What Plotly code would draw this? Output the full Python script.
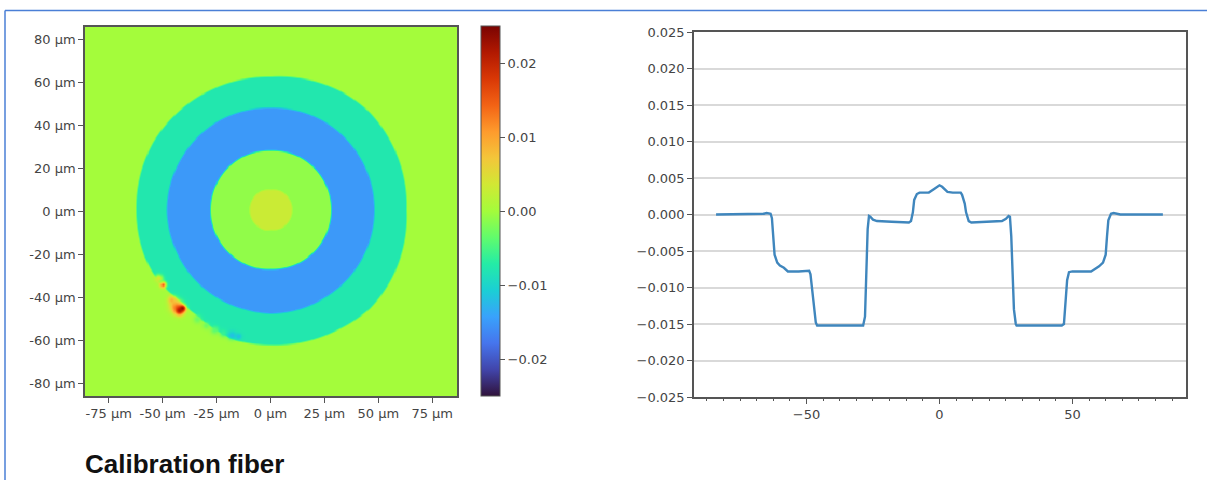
import numpy as np
import plotly.graph_objects as go

# --- profile (right panel) ---
profile_x = [-84,-75,-70,-66,-65,-63.5,-63,-62.5,-62,-61,-60,-58.5,-57,-53,-50,-49,-48.5,-47.5,-46.5,-46,-38,-29.5,-28.7,-28,-27.5,-27,-26.5,-26,-25,-23.5,-18,-11.5,-10.7,-10,-9.5,-8.5,-7.5,-4,-2,-0.5,0,1,3,5,8,8.5,9.5,10,11,12,18,23.5,25,26,26.5,27,27.5,28,28.7,29,38,46,46.8,47.5,48,48.7,50,57,58,60,61.5,62.5,63,63.5,64.5,65.5,68,75,84]
profile_y = [0,0,0,0.0001,0.0002,0.0001,-0.0005,-0.003,-0.0055,-0.0066,-0.007,-0.0073,-0.0078,-0.0078,-0.0078,-0.0077,-0.0082,-0.0115,-0.0148,-0.0152,-0.0152,-0.0151,-0.0152,-0.014,-0.008,-0.002,-0.0002,-0.0003,-0.0007,-0.0009,-0.001,-0.0011,-0.0009,0.0003,0.002,0.0028,0.003,0.003,0.0035,0.0039,0.004,0.0038,0.0031,0.003,0.003,0.0027,0.0015,0.0003,-0.0009,-0.0011,-0.001,-0.0009,-0.0006,-0.0002,-0.0003,-0.003,-0.008,-0.013,-0.015,-0.0152,-0.0152,-0.0152,-0.015,-0.012,-0.009,-0.0079,-0.0078,-0.0078,-0.0076,-0.0071,-0.0066,-0.0055,-0.003,-0.0008,0.0001,0.0002,0,0,0]
profile_yticks = [-0.025,-0.02,-0.015,-0.01,-0.005,0,0.005,0.01,0.015,0.02,0.025]
profile_ylabels = ["−0.025","−0.020","−0.015","−0.010","−0.005","0.000","0.005","0.010","0.015","0.020","0.025"]
profile_xticks = [-50,0,50]
profile_xlabels = ["−50","0","50"]

# --- map (left panel): ring edges in µm, by direction in degrees ---
edge_angles = [0,30,45,60,90,120,150,180,200,210,225,234,245,255,270,300,315,330,360]
outer_edge  = [63,64,64.5,64,62,62.5,63,62.5,62.5,62,60,60,61.5,63,63,64,65,64.5,63]
blue_edge   = [48,48,48,48,47.5,48,48,48.3,48,48,48,48,48,48,48.5,48,48,48,48]
core_edge   = [28,28,28,28,27.6,28,28,28,28,28,28,28,28,28,27.7,28,28,28,28]
centre_edge = [9.8,9.8,9.8,9.8,9.3,9.8,9.8,9.8,9.8,9.8,9.8,9.8,9.8,9.8,9.3,9.8,9.8,9.8,9.8]
level_bg, level_outer, level_blue, level_core, level_centre = 0.0, -0.0078, -0.015, -0.001, 0.003

# defect spots: x µm, y µm, size µm, value
defect_x = [-50,-52,-46,-44,-42.5,-41,-34,-30,-26,-22,-18,-15]
defect_y = [-34,-31,-41,-44,-46,-45,-50,-53,-55,-56.5,-57.5,-58]
defect_s = [1.0,1.3,1.3,2.0,1.5,1.1,1.3,1.1,1.3,1.2,1.3,1.0]
defect_v = [0.014,0.004,0.008,0.011,0.021,0.023,-0.003,-0.003,-0.004,-0.006,-0.012,-0.012]

map_xticks = [-75,-50,-25,0,25,50,75]
map_xlabels = ["-75 µm","-50 µm","-25 µm","0 µm","25 µm","50 µm","75 µm"]
map_yticks = [80,60,40,20,0,-20,-40,-60,-80]
map_ylabels = ["80 µm","60 µm","40 µm","20 µm","0 µm","-20 µm","-40 µm","-60 µm","-80 µm"]
bar_ticks = [-0.02,-0.01,0,0.01,0.02]
bar_labels = ["−0.02","−0.01","0.00","0.01","0.02"]
caption = "Calibration fiber"

# rasterise the ring table to a grid, with a soft edge as in the photographed picture
gx = np.arange(-87, 87.5, 0.5)
gy = np.arange(-87, 87.5, 0.5)
X, Y = np.meshgrid(gx, gy)
Yc = Y - 1
R = np.hypot(X, Yc)
A = np.degrees(np.arctan2(Yc, X)) % 360
Z = np.full(X.shape, level_bg, dtype=float)
for edge, lvl in [(outer_edge, level_outer), (blue_edge, level_blue), (core_edge, level_core), (centre_edge, level_centre)]:
    cover = np.clip((np.interp(A, edge_angles, edge) - R) / 1.0 + 0.5, 0, 1)
    Z = Z * (1 - cover) + lvl * cover
for dx, dy, ds, dv in zip(defect_x, defect_y, defect_s, defect_v):
    w = np.exp(-((X - dx) ** 2 + (Y - dy) ** 2) / (2 * ds ** 2))
    Z = Z * (1 - w) + dv * w

W, H = 1207, 480
def dom(a, b, s): return [a / s, b / s]
TXT = "#444444"
FRAME = "#555555"
F = dict(family="DejaVu Sans", size=13, color=TXT)
F2 = dict(family="DejaVu Sans", size=13, color=TXT)

fig = go.Figure()
fig.add_trace(go.Heatmap(
    x=gx, y=gy, z=Z, zmin=-0.025, zmax=0.025, zsmooth="best", colorscale="Turbo",
    xaxis="x", yaxis="y", hoverinfo="skip",
    colorbar=dict(x=481/W, xanchor="left", thickness=19, thicknessmode="pixels",
                  len=370, lenmode="pixels", y=1-211/H, yanchor="middle", xpad=0, ypad=0,
                  tickvals=bar_ticks, ticktext=bar_labels, ticks="outside", ticklen=5,
                  tickcolor=FRAME, tickfont=F, outlinecolor=FRAME, outlinewidth=1),
))
fig.add_trace(go.Scatter(x=profile_x, y=profile_y, mode="lines", xaxis="x2", yaxis="y2",
                         line=dict(color="#3f86bd", width=2.4), showlegend=False, hoverinfo="skip"))

fig.update_layout(
    width=W, height=H, margin=dict(l=0, r=0, t=0, b=0, autoexpand=False),
    paper_bgcolor="white", plot_bgcolor="white", showlegend=False,
    xaxis=dict(domain=dom(85, 457, W), range=[-86, 86.5], anchor="y", tickvals=map_xticks, ticktext=map_xlabels,
               ticks="outside", ticklen=5, tickcolor=FRAME, tickfont=F, showgrid=False, zeroline=False,
               showline=True, linecolor=FRAME, linewidth=1.5, mirror=True),
    yaxis=dict(domain=[1-396/H, 1-27/H], range=[-86, 86], anchor="x", tickvals=map_yticks, ticktext=map_ylabels,
               ticks="outside", ticklen=5, tickcolor=FRAME, tickfont=F, showgrid=False, zeroline=False,
               showline=True, linecolor=FRAME, linewidth=1.5, mirror=True),
    xaxis2=dict(domain=dom(694, 1186, W), range=[-92.3, 92.7], anchor="y2", tickvals=profile_xticks, ticktext=profile_xlabels,
                ticks="outside", ticklen=5, tickcolor=FRAME, tickfont=F2, showgrid=False, zeroline=False,
                showline=True, linecolor=FRAME, linewidth=1.5, mirror=True,
                minor=dict(dtick=6.25, tick0=0, ticks="outside", ticklen=2, tickcolor=FRAME, showgrid=False)),
    yaxis2=dict(domain=[1-397/H, 1-32/H], range=[-0.025, 0.025], anchor="x2", tickvals=profile_yticks, ticktext=profile_ylabels,
                ticks="outside", ticklen=5, tickcolor=FRAME, tickfont=F2, showgrid=True, gridcolor="#d9d9d9", gridwidth=2,
                zeroline=False, showline=True, linecolor=FRAME, linewidth=1.5, mirror=True),
    annotations=[dict(text="<b>" + caption + "</b>", xref="paper", yref="paper", x=83/W, y=1-464/H,
                      xanchor="left", yanchor="middle", showarrow=False,
                      font=dict(family="Liberation Sans", size=26, color="#111111"))],
    shapes=[
        dict(type="line", xref="paper", yref="paper", x0=5/W, x1=1, y0=1-10.5/H, y1=1-10.5/H, line=dict(color="#4a7fd6", width=1.5)),
        dict(type="line", xref="paper", yref="paper", x0=5/W, x1=5/W, y0=0, y1=1-10.5/H, line=dict(color="#4a7fd6", width=1.5)),
    ],
)
fig.write_html("out.html", config=dict(displayModeBar=False),
               post_script="document.body.style.margin='0';document.body.style.overflow='hidden';")
